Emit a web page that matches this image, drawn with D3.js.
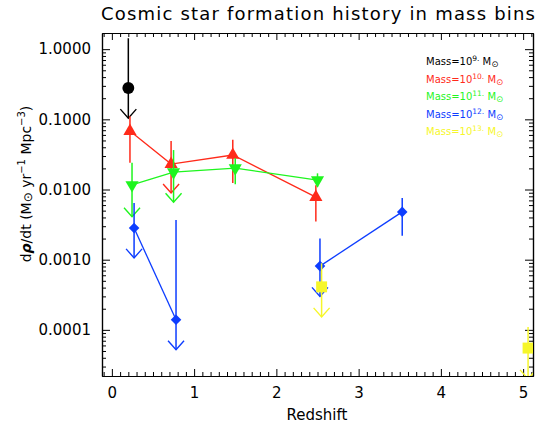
<!DOCTYPE html>
<html>
<head>
<meta charset="utf-8">
<script src="https://cdn.jsdelivr.net/npm/d3@7"></script>
<style>
  html, body { margin: 0; padding: 0; background: #fff; }
  svg { display: block; font-family: "DejaVu Sans", "Liberation Sans", sans-serif; }
</style>
</head>
<body>
<svg id="chart" width="543" height="424"></svg>
<script>
// Star formation rate density per mass bin: redshift, value, upper / lower error ends,
// whether the lower end is an upper-limit arrow, and which points are joined by a line.
const mass9Z = [0.2];
const mass9Sfr = [0.28];
const mass9Hi = [1.43];
const mass9Lo = [0.104];
const mass9Arrow = [true];
const mass9Group = [null];

const mass10Z = [0.22, 0.72, 1.47, 2.48];
const mass10Sfr = [0.068, 0.023, 0.031, 0.0078];
const mass10Hi = [0.111, 0.049, 0.051, 0.0115];
const mass10Lo = [0.024, 0.0089, 0.0124, 0.0035];
const mass10Arrow = [false, true, false, false];
const mass10Group = [0, 0, 0, 0];

const mass11Z = [0.245, 0.75, 1.5, 2.5];
const mass11Sfr = [0.0116, 0.0177, 0.0202, 0.0136];
const mass11Hi = [0.024, 0.0365, 0.028, 0.017];
const mass11Lo = [0.0041, 0.0066, 0.0119, 0.011];
const mass11Arrow = [true, true, false, false];
const mass11Group = [0, 0, 0, 0];

const mass12Z = [0.27, 0.78, 2.53, 3.53];
const mass12Sfr = [0.00283, 0.000139, 0.00081, 0.0048];
const mass12Hi = [0.0064, 0.00368, 0.0020, 0.0076];
const mass12Lo = [0.00106, 0.000052, 0.0003, 0.0022];
const mass12Arrow = [true, true, true, false];
const mass12Group = [0, 0, 1, 1];

const mass13Z = [2.55, 5.06];
const mass13Sfr = [0.00041, 0.000055];
const mass13Hi = [0.00089, 0.00011];
const mass13Lo = [0.000153, 0.00002];
const mass13Arrow = [true, true];
const mass13Group = [null, null];

const massExponents = ["9.", "10.", "11.", "12.", "13."];
const xTickLabels = [0, 1, 2, 3, 4, 5];
const yTickLabels = [0.0001, 0.001, 0.01, 0.1, 1];

const titleText = "Cosmic star formation history in mass bins";
const xTitle = "Redshift";

const series = [
  { name: "mass9", color: "#000000", shape: "circle", z: mass9Z, v: mass9Sfr, hi: mass9Hi, lo: mass9Lo, arrow: mass9Arrow, group: mass9Group },
  { name: "mass10", color: "#ff2a1a", shape: "triUp", z: mass10Z, v: mass10Sfr, hi: mass10Hi, lo: mass10Lo, arrow: mass10Arrow, group: mass10Group },
  { name: "mass11", color: "#1ff51f", shape: "triDown", z: mass11Z, v: mass11Sfr, hi: mass11Hi, lo: mass11Lo, arrow: mass11Arrow, group: mass11Group },
  { name: "mass12", color: "#0d3dff", shape: "diamond", z: mass12Z, v: mass12Sfr, hi: mass12Hi, lo: mass12Lo, arrow: mass12Arrow, group: mass12Group },
  { name: "mass13", color: "#f6f62a", shape: "square", z: mass13Z, v: mass13Sfr, hi: mass13Hi, lo: mass13Lo, arrow: mass13Arrow, group: mass13Group }
];

const svg = d3.select("#chart");
const box = { left: 102, right: 533, top: 33, bottom: 376 };

const x = d3.scaleLinear().domain([-0.12, 5.12]).range([box.left, box.right]);
const y = d3.scaleLog().domain([2.2e-5, 1.7]).range([box.bottom, box.top]);

// Title
svg.append("text")
  .attr("x", 318).attr("y", 20)
  .attr("text-anchor", "middle")
  .attr("font-size", 18)
  .attr("textLength", 434)
  .attr("lengthAdjust", "spacing")
  .attr("fill", "#000")
  .text(titleText);

// Axes: major and minor ticks pointing inward on all four sides
const xMinor = d3.range(-1, 52).map(d => d / 10).filter(d => d >= -0.12 && d <= 5.12 && Math.abs(d - Math.round(d)) > 1e-6);
const yMinor = y.ticks().filter(d => !yTickLabels.some(t => Math.abs(d / t - 1) < 1e-6));

function styleAxis(g) {
  g.selectAll("path.domain").attr("stroke", "#000").attr("stroke-width", 1.2);
  g.selectAll("line").attr("stroke", "#000");
  g.selectAll("text").attr("fill", "#000").attr("font-size", 15).attr("font-family", "\"DejaVu Sans\", sans-serif");
}

svg.append("g").attr("transform", `translate(0,${box.bottom})`)
  .call(d3.axisBottom(x).tickValues(xTickLabels).tickFormat(d3.format("d")).tickSizeInner(-7).tickSizeOuter(0).tickPadding(11))
  .call(styleAxis);
svg.append("g").attr("transform", `translate(0,${box.bottom})`)
  .call(d3.axisBottom(x).tickValues(xMinor).tickFormat("").tickSizeInner(-4).tickSizeOuter(0))
  .call(styleAxis);
svg.append("g").attr("transform", `translate(0,${box.top})`)
  .call(d3.axisTop(x).tickValues(xTickLabels).tickFormat("").tickSizeInner(-7).tickSizeOuter(0))
  .call(styleAxis);
svg.append("g").attr("transform", `translate(0,${box.top})`)
  .call(d3.axisTop(x).tickValues(xMinor).tickFormat("").tickSizeInner(-4).tickSizeOuter(0))
  .call(styleAxis);

svg.append("g").attr("transform", `translate(${box.left},0)`)
  .call(d3.axisLeft(y).tickValues(yTickLabels).tickFormat(d3.format(".4f")).tickSizeInner(-8).tickSizeOuter(0).tickPadding(11))
  .call(styleAxis);
svg.append("g").attr("transform", `translate(${box.left},0)`)
  .call(d3.axisLeft(y).tickValues(yMinor).tickFormat("").tickSizeInner(-4).tickSizeOuter(0))
  .call(styleAxis);
svg.append("g").attr("transform", `translate(${box.right},0)`)
  .call(d3.axisRight(y).tickValues(yTickLabels).tickFormat("").tickSizeInner(-8).tickSizeOuter(0))
  .call(styleAxis);
svg.append("g").attr("transform", `translate(${box.right},0)`)
  .call(d3.axisRight(y).tickValues(yMinor).tickFormat("").tickSizeInner(-4).tickSizeOuter(0))
  .call(styleAxis);

// Axis titles
svg.append("text")
  .attr("x", 317).attr("y", 420)
  .attr("text-anchor", "middle").attr("font-size", 15).attr("fill", "#000")
  .text(xTitle);

const yt = svg.append("text")
  .attr("transform", "translate(31,184) rotate(-90)")
  .attr("text-anchor", "middle").attr("font-size", 14).attr("fill", "#000");
yt.append("tspan").text("d");
yt.append("tspan").attr("font-weight", "bold").attr("font-style", "italic").text("ρ");
yt.append("tspan").text("/dt (M");
yt.append("tspan").attr("font-size", 12).attr("dy", 1).text("⊙");
yt.append("tspan").attr("dy", -1).text(" yr");
yt.append("tspan").attr("font-size", 10).attr("dy", -6).text("−1");
yt.append("tspan").attr("dy", 6).text(" Mpc");
yt.append("tspan").attr("font-size", 10).attr("dy", -6).text("−3");
yt.append("tspan").attr("dy", 6).text(")");

// Plot area contents, clipped to the frame
svg.append("clipPath").attr("id", "plotClip")
  .append("rect").attr("x", box.left).attr("y", box.top)
  .attr("width", box.right - box.left).attr("height", box.bottom - box.top);
const plot = svg.append("g").attr("clip-path", "url(#plotClip)");

const symbolFor = {
  circle: d3.symbol().type(d3.symbolCircle).size(110),
  triUp: d3.symbol().type(d3.symbolTriangle).size(75),
  triDown: d3.symbol().type(d3.symbolTriangle).size(75),
  diamond: d3.symbol().type(d3.symbolSquare).size(56),
  square: d3.symbol().type(d3.symbolSquare).size(120)
};
const rotateFor = { circle: 0, triUp: 0, triDown: 180, diamond: 45, square: 0 };

series.forEach(s => {
  const pts = s.z.map((z, i) => ({ z, v: s.v[i], hi: s.hi[i], lo: s.lo[i], arrow: s.arrow[i], group: s.group[i] }));
  const g = plot.append("g").attr("class", s.name);

  // connecting lines
  const groups = d3.groups(pts.filter(p => p.group !== null), p => p.group);
  groups.forEach(([, gp]) => {
    if (gp.length < 2) return;
    g.append("path")
      .attr("d", d3.line().x(p => x(p.z)).y(p => y(p.v))(gp))
      .attr("fill", "none").attr("stroke", s.color).attr("stroke-width", 1.3);
  });

  // error bars
  g.selectAll("line.err").data(pts).join("line")
    .attr("class", "err")
    .attr("x1", p => x(p.z)).attr("x2", p => x(p.z))
    .attr("y1", p => y(p.hi)).attr("y2", p => y(p.lo))
    .attr("stroke", s.color).attr("stroke-width", 1.5);

  // upper-limit arrowheads
  g.selectAll("path.arrow").data(pts.filter(p => p.arrow)).join("path")
    .attr("class", "arrow")
    .attr("d", p => {
      const cx = x(p.z), cy = y(p.lo);
      return `M${cx - 8},${cy - 9}L${cx},${cy}L${cx + 8},${cy - 9}`;
    })
    .attr("fill", "none").attr("stroke", s.color).attr("stroke-width", 1.4);

  // markers
  g.selectAll("path.mark").data(pts).join("path")
    .attr("class", "mark")
    .attr("d", symbolFor[s.shape])
    .attr("transform", p => `translate(${x(p.z)},${y(p.v)}) rotate(${rotateFor[s.shape]})`)
    .attr("fill", s.color);
});

// Legend
const legend = svg.append("g").attr("font-size", 10);
series.forEach((s, i) => {
  const t = legend.append("text")
    .attr("x", 426).attr("y", 65 + i * 17.6)
    .attr("fill", s.color);
  t.append("tspan").text("Mass=10");
  t.append("tspan").attr("font-size", 7.5).attr("dy", -4).text(massExponents[i]);
  t.append("tspan").attr("dy", 4).text(" M");
  t.append("tspan").attr("font-size", 8.5).attr("dy", 2).text("⊙");
});
</script>
</body>
</html>
